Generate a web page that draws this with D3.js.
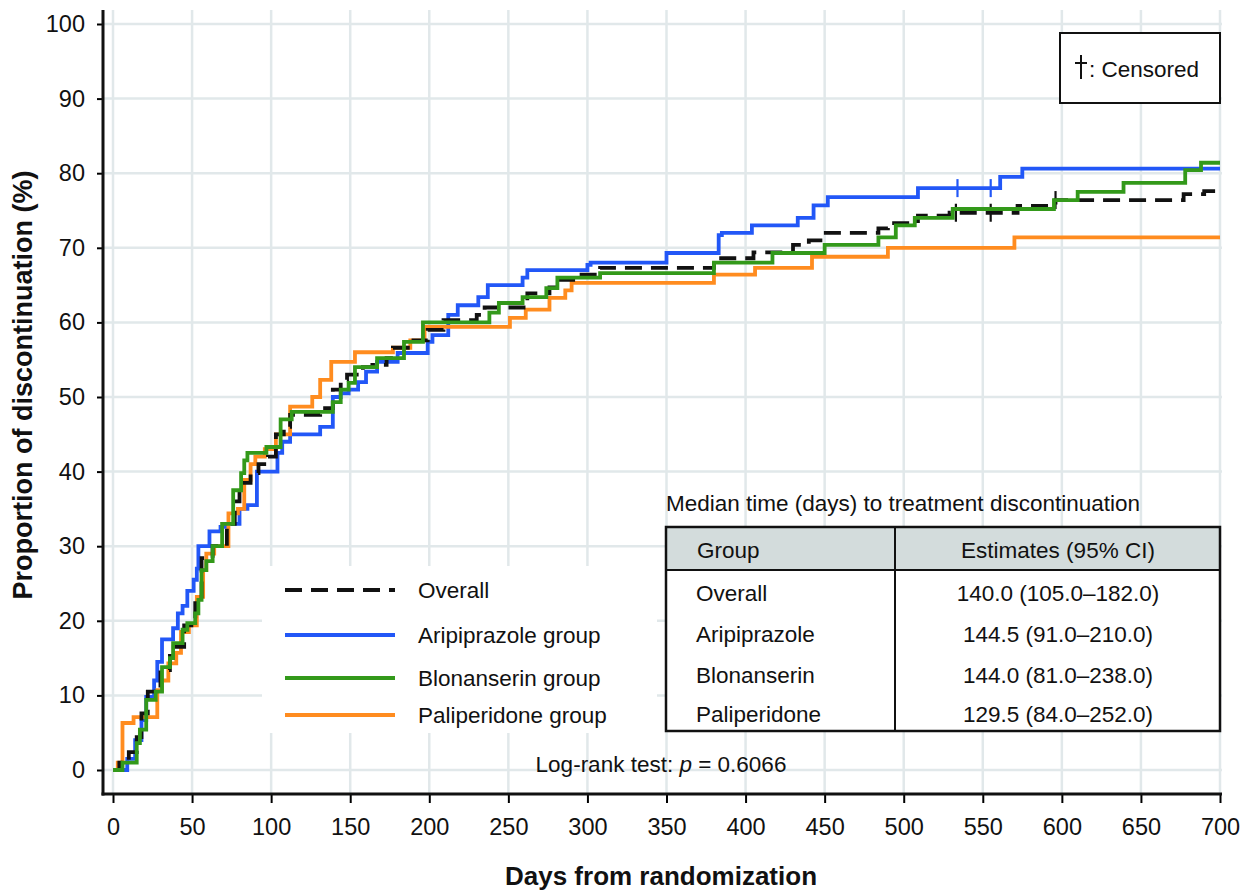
<!DOCTYPE html>
<html>
<head>
<meta charset="utf-8">
<script src="https://cdn.jsdelivr.net/npm/d3@7"></script>
<style>
  html, body { margin: 0; padding: 0; background: #fff; }
  svg { display: block; font-family: "Liberation Sans", Arial, Helvetica, sans-serif; }
</style>
</head>
<body>
<svg id="chart" width="1256" height="892"></svg>
<script>
// ---------------- DATA ----------------
const xTicks = [0, 50, 100, 150, 200, 250, 300, 350, 400, 450, 500, 550, 600, 650, 700];
const yTicks = [0, 10, 20, 30, 40, 50, 60, 70, 80, 90, 100];

// Step points: [day, cumulative proportion (%)]
const overall = [[0,0],[4,1],[10,2.4],[15,4.4],[18,7.6],[22,10.5],[30,13.4],[36,16.5],[45,19.4],[52,22.8],[56,28.4],[63,30],[72,33],[77,36],[80,38.5],[87,39.8],[92,41],[98,42],[103,45],[108,46],[112,47.6],[131,48.5],[139,51],[144,52.3],[148,53],[158,54],[164,54.3],[173,55.2],[177,56.6],[190,57.6],[199,59],[209,60.3],[230,61],[235,62],[262,63.9],[276,64.7],[282,65.7],[291,66.4],[308,67.3],[380,68.6],[405,69.4],[430,70.4],[440,71],[449,72],[484,72.6],[490,73.3],[509,74.3],[529,74.7],[572,75.6],[596,76.4],[677,77.2],[690,77.6]];

const aripiprazole = [[0,0],[9,1.5],[14,4],[18,6.7],[21,9.8],[26,12],[28,14.5],[31,17.5],[38,19],[41,21],[44,22],[47,24],[51,25.5],[53,27],[54,30],[61,32],[68,32.6],[72,33],[80,35],[85,35.5],[91,40],[104,42.5],[107,44],[112,45],[131,46],[139,50],[144,50.5],[149,51],[155,52],[160,53.4],[167,54.7],[180,55.9],[199,57.4],[202,58.3],[212,61],[218,62.3],[231,63.4],[237,65],[259,66],[262,67],[300,67.7],[302,68],[350,69.3],[383,71.7],[385,72],[404,73],[433,74],[443,75.7],[452,76.8],[509,78],[561,79.5],[575,80.6]];

const blonanserin = [[0,0],[6,1],[15,3.6],[17,5.4],[21,9.4],[27,10.5],[31,13.8],[36,15],[38,17],[44,18.8],[47,19.7],[52,21],[54,22.8],[56,26.8],[59,28],[63,30],[69,33],[76,37.5],[81,39.8],[83,41.5],[85,42.5],[97,43.3],[106,47],[113,48],[139,49.3],[144,51],[149,51.9],[153,54],[167,55.2],[184,57.4],[196,60],[238,61.3],[244,62.6],[259,63.4],[274,64.6],[281,66],[308,66.6],[380,68],[417,69.3],[450,70.4],[484,71.4],[495,73],[507,74],[531,75.2],[595,76.4],[610,77.5],[639,78.7],[678,80.4],[688,81.4]];

const paliperidone = [[0,0],[3,1],[6,6.3],[13,7.1],[28,10.7],[31,12],[35,14.3],[40,15.7],[43,18.5],[48,19.4],[53,23.2],[57,26.8],[59,29],[64,30],[73,34.4],[79,35],[83,38.9],[87,41],[90,42],[96,43],[103,45],[112,48.7],[126,50],[131,52.3],[138,54.7],[153,56],[177,56.6],[188,57.6],[197,59.4],[251,60.6],[261,61.7],[276,63.3],[286,64.3],[290,65.3],[380,66.4],[406,67.3],[442,68.8],[490,70],[570,71.4]];

// censored observations (days)
const censorOverall = [533, 555, 596];
const censorAripiprazole = [534, 555];

const legendLabels = ["Overall", "Aripiprazole group", "Blonanserin group", "Paliperidone group"];
const tableTitle = "Median time (days) to treatment discontinuation";
const tableHeader = ["Group", "Estimates (95% CI)"];
const tableGroups = ["Overall", "Aripiprazole", "Blonanserin", "Paliperidone"];
const tableEstimates = ["140.0 (105.0\u2013182.0)", "144.5 (91.0\u2013210.0)", "144.0 (81.0\u2013238.0)", "129.5 (84.0\u2013252.0)"];
const pValue = "0.6066";

// ---------------- CHART ----------------
const svg = d3.select("#chart");
const x = d3.scaleLinear().domain([0, 700]).range([113, 1220]);
const y = d3.scaleLinear().domain([0, 100]).range([770, 24]);

const axisX = 103, axisY = 794, plotTop = 10, plotRight = 1222;
const gridColor = "#e1e8ea";
const fs = 22.5;

// grid
const grid = svg.append("g");
grid.selectAll("line.v").data(xTicks).join("line")
  .attr("x1", d => x(d)).attr("x2", d => x(d))
  .attr("y1", plotTop).attr("y2", axisY)
  .attr("stroke", gridColor).attr("stroke-width", 2.5);
grid.selectAll("line.h").data(yTicks).join("line")
  .attr("x1", axisX).attr("x2", plotRight)
  .attr("y1", d => y(d)).attr("y2", d => y(d))
  .attr("stroke", gridColor).attr("stroke-width", 2.5);

// curves
const series = [
  { data: aripiprazole, color: "#2257f7", dash: null, censor: censorAripiprazole },
  { data: paliperidone, color: "#ff8c1f", dash: null, censor: [] },
  { data: overall, color: "#111111", dash: "17,9", censor: censorOverall },
  { data: blonanserin, color: "#33991a", dash: null, censor: [] }
];

const line = d3.line().x(d => x(d[0])).y(d => y(d[1])).curve(d3.curveStepAfter);
function valueAt(data, t) {
  let v = 0;
  for (const d of data) { if (d[0] <= t) v = d[1]; }
  return v;
}
series.forEach(s => {
  const last = s.data[s.data.length - 1];
  const pts = s.data.concat([[x.domain()[1], last[1]]]);
  svg.append("path").datum(pts)
    .attr("d", line)
    .attr("fill", "none")
    .attr("stroke", s.color)
    .attr("stroke-width", 3.8)
    .attr("stroke-dasharray", s.dash);
  svg.selectAll(null).data(s.censor).join("line")
    .attr("x1", d => x(d)).attr("x2", d => x(d))
    .attr("y1", d => y(valueAt(s.data, d)) - 9)
    .attr("y2", d => y(valueAt(s.data, d)) + 9)
    .attr("stroke", s.color).attr("stroke-width", 2.2);
});

// axes
const yAxis = svg.append("g").attr("transform", `translate(${axisX},0)`)
  .call(d3.axisLeft(y).tickValues(yTicks).tickSize(6).tickPadding(12));
yAxis.select(".domain").remove();
yAxis.selectAll("text").attr("font-size", 23.5).attr("fill", "#111");
yAxis.selectAll("line").attr("stroke-width", 2);
svg.append("line").attr("x1", axisX).attr("x2", axisX).attr("y1", plotTop).attr("y2", axisY + 1.5)
  .attr("stroke", "#111").attr("stroke-width", 3);

const xAxis = svg.append("g").attr("transform", `translate(0,${axisY})`)
  .call(d3.axisBottom(x).tickValues(xTicks).tickSize(9).tickPadding(15));
xAxis.select(".domain").remove();
xAxis.selectAll("text").attr("font-size", 23.5).attr("fill", "#111");
xAxis.selectAll("line").attr("stroke-width", 2);
svg.append("line").attr("x1", axisX - 1.5).attr("x2", plotRight).attr("y1", axisY).attr("y2", axisY)
  .attr("stroke", "#111").attr("stroke-width", 3);

// axis titles
svg.append("text").attr("x", 661).attr("y", 885).attr("text-anchor", "middle")
  .attr("font-size", 26).attr("font-weight", "bold").attr("fill", "#111")
  .text("Days from randomization");
svg.append("text").attr("transform", "translate(32,385) rotate(-90)").attr("text-anchor", "middle")
  .attr("font-size", 27).attr("font-weight", "bold").attr("fill", "#111")
  .text("Proportion of discontinuation (%)");

// legend
const legend = svg.append("g");
legend.append("rect").attr("x", 262).attr("y", 566).attr("width", 395).attr("height", 167).attr("fill", "#fff");
const legendColors = ["#111111", "#2257f7", "#33991a", "#ff8c1f"];
const legendDash = ["17,9", null, null, null];
const legendY = [590, 635, 678, 715];
legendLabels.forEach((lab, i) => {
  legend.append("line").attr("x1", 285).attr("x2", 395).attr("y1", legendY[i]).attr("y2", legendY[i])
    .attr("stroke", legendColors[i]).attr("stroke-width", 3.8).attr("stroke-dasharray", legendDash[i]);
  legend.append("text").attr("x", 418).attr("y", legendY[i] + 8).attr("font-size", fs).attr("fill", "#111").text(lab);
});

// censored box
const cb = svg.append("g");
cb.append("rect").attr("x", 1060).attr("y", 33).attr("width", 160).attr("height", 70)
  .attr("fill", "#fff").attr("stroke", "#111").attr("stroke-width", 2);
cb.append("line").attr("x1", 1081).attr("x2", 1081).attr("y1", 55).attr("y2", 79).attr("stroke", "#111").attr("stroke-width", 2);
cb.append("line").attr("x1", 1075).attr("x2", 1087).attr("y1", 63).attr("y2", 63).attr("stroke", "#111").attr("stroke-width", 2);
cb.append("text").attr("x", 1089).attr("y", 77).attr("font-size", fs).attr("fill", "#111").text(": Censored");

// median table
const tb = svg.append("g");
tb.append("text").attr("x", 666).attr("y", 511).attr("font-size", fs).attr("fill", "#111").text(tableTitle);
tb.append("rect").attr("x", 666).attr("y", 527).attr("width", 554).attr("height", 204).attr("fill", "#fff");
tb.append("rect").attr("x", 666).attr("y", 527).attr("width", 554).attr("height", 43).attr("fill", "#d3dcdc");
tb.append("line").attr("x1", 666).attr("x2", 1220).attr("y1", 570).attr("y2", 570).attr("stroke", "#111").attr("stroke-width", 2);
tb.append("line").attr("x1", 895).attr("x2", 895).attr("y1", 527).attr("y2", 731).attr("stroke", "#111").attr("stroke-width", 2);
tb.append("rect").attr("x", 666).attr("y", 527).attr("width", 554).attr("height", 204)
  .attr("fill", "none").attr("stroke", "#111").attr("stroke-width", 2.5);
tb.append("text").attr("x", 697).attr("y", 558).attr("font-size", fs).attr("fill", "#111").text(tableHeader[0]);
tb.append("text").attr("x", 1058).attr("y", 558).attr("text-anchor", "middle").attr("font-size", fs).attr("fill", "#111").text(tableHeader[1]);
const rowY = [601, 642, 683, 722];
tableGroups.forEach((g, i) => {
  tb.append("text").attr("x", 696).attr("y", rowY[i]).attr("font-size", fs).attr("fill", "#111").text(g);
  tb.append("text").attr("x", 1058).attr("y", rowY[i]).attr("text-anchor", "middle").attr("font-size", fs).attr("fill", "#111").text(tableEstimates[i]);
});

// log-rank text
const lr = svg.append("text").attr("x", 661).attr("y", 772).attr("text-anchor", "middle").attr("font-size", fs).attr("fill", "#111");
lr.append("tspan").text("Log-rank test: ");
lr.append("tspan").attr("font-style", "italic").text("p");
lr.append("tspan").text(" = " + pValue);
</script>
</body>
</html>
